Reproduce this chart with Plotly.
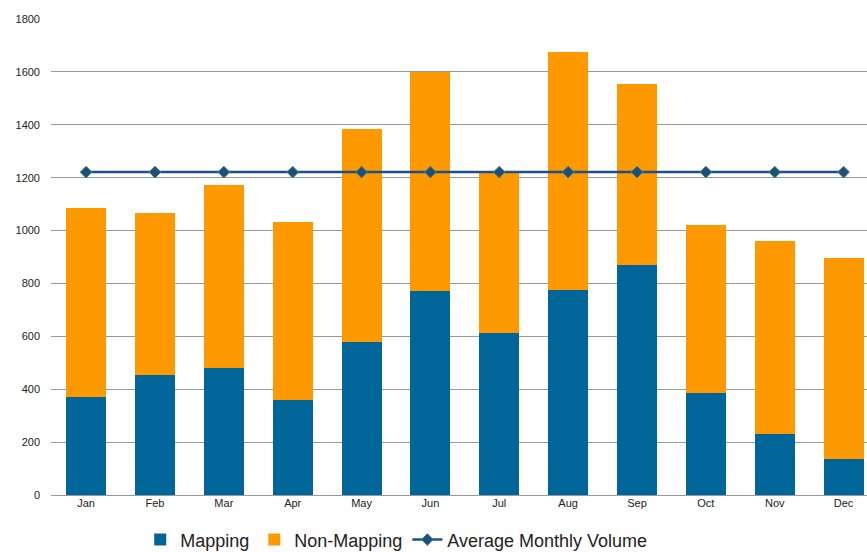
import plotly.graph_objects as go

months = ["Jan", "Feb", "Mar", "Apr", "May", "Jun", "Jul", "Aug", "Sep", "Oct", "Nov", "Dec"]
mapping = [370, 454, 481, 359, 580, 770, 611, 775, 870, 384, 232, 137]
totals = [1085, 1065, 1171, 1033, 1385, 1601, 1218, 1676, 1555, 1021, 960, 895]
non_mapping = [t - m for t, m in zip(totals, mapping)]
average = [1221] * 12

fig = go.Figure()
fig.add_trace(go.Bar(x=months, y=mapping, name="Mapping",
                     marker=dict(color="#006699", line=dict(width=0))))
fig.add_trace(go.Bar(x=months, y=non_mapping, name="Non-Mapping",
                     marker=dict(color="#FF9900", line=dict(width=0))))
fig.add_trace(go.Scatter(x=months, y=average, name="Average Monthly Volume",
                         mode="lines+markers",
                         line=dict(color="#1F4E8C", width=2.5),
                         marker=dict(symbol="diamond", size=9, color="#1F4E79",
                                     line=dict(color="#3C8C78", width=1))))

fig.update_layout(
    width=867, height=552,
    barmode="stack", bargap=0.42,
    plot_bgcolor="white", paper_bgcolor="white",
    margin=dict(l=51, r=0, t=19, b=57),
    font=dict(family="Liberation Sans, Arial, sans-serif", color="#222"),
    showlegend=True,
    legend=dict(orientation="h", xref="container", yref="container",
                x=0.457, y=0.022, xanchor="center", yanchor="middle",
                font=dict(size=18, color="#222"), itemwidth=30,
                traceorder="normal"),
)
fig.update_xaxes(range=[-0.51, 11.34], showgrid=False, ticks="",
                 tickfont=dict(size=11), showline=False)
fig.update_yaxes(range=[0, 1800], dtick=200, showgrid=True,
                 gridcolor="#999999", gridwidth=1.3, zeroline=True,
                 zerolinecolor="#999999", zerolinewidth=1.3,
                 tickfont=dict(size=11), ticklabelstandoff=10, tickformat="d")

fig.write_html("out.html")
